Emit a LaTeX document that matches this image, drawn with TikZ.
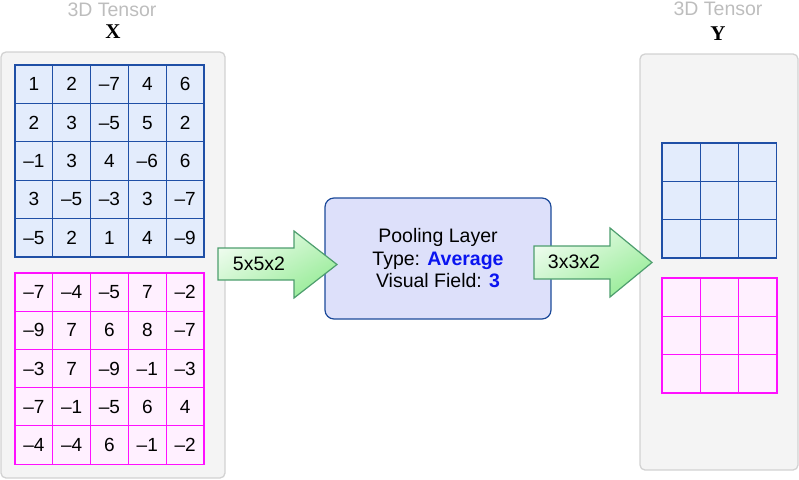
\documentclass[tikz,border=0pt]{standalone}
\usepackage{fontspec}
\setmainfont{Liberation Sans}
\newfontfamily\serifname{Liberation Serif}
\usetikzlibrary{positioning}

\definecolor{panelfill}{HTML}{F4F4F4}
\definecolor{panelline}{HTML}{D2D2D2}
\definecolor{bluefill}{HTML}{E3ECFC}
\definecolor{blueline}{HTML}{1F4FA6}
\definecolor{pinkfill}{HTML}{FFF0FF}
\definecolor{pinkline}{HTML}{FF10FF}
\definecolor{poolfill}{HTML}{DDE0FA}
\definecolor{poolline}{HTML}{1C4A9A}
\definecolor{arrowline}{HTML}{4E9E6E}
\definecolor{arrowtop}{HTML}{EEFCEE}
\definecolor{arrowbot}{HTML}{98EC98}
\definecolor{titlegray}{HTML}{BDBDBD}
\definecolor{hiblue}{HTML}{0A14F0}

\tikzset{
  panel/.style={draw=panelline,fill=panelfill,line width=1.3pt,rounded corners=5pt},
  bcell/.style={draw=blueline,fill=bluefill,line width=1.2pt,inner sep=0pt,
    minimum width=37.8pt,minimum height=38.4pt,font=\fontsize{19}{22}\selectfont},
  pcell/.style={bcell,draw=pinkline,fill=pinkfill},
  ycell/.style={bcell,minimum width=38.2pt,minimum height=38.3pt},
  yqcell/.style={pcell,minimum width=38.3pt,minimum height=38.3pt},
  blockarrow/.style={draw=arrowline,line width=1.2pt,top color=arrowtop,bottom color=arrowbot,shading angle=30},
  tensortitle/.style={text=titlegray,font=\fontsize{19.5}{22}\selectfont,inner sep=0pt},
  tensorname/.style={font=\serifname\bfseries\fontsize{21}{24}\selectfont,inner sep=0pt},
}

\begin{document}
\begin{tikzpicture}[x=1pt,y=-1pt]
  \useasboundingbox (0,0) rectangle (799,479);
  % panels
  \draw [panel] (1,52) rectangle (225,478);
  \draw [panel] (640,54) rectangle (798,470);
  \node [tensortitle] (titleX) at (112,10) {3D Tensor};
  \node [tensorname] (nameX) at (113,32) {X};
  \node [tensortitle] (titleY) at (718,9) {3D Tensor};
  \node [tensorname] (nameY) at (718,34) {Y};
  % input channels
  \foreach \r [count=\i] in {{1,2,–7,4,6},{2,3,–5,5,2},{–1,3,4,–6,6},{3,–5,–3,3,–7},{–5,2,1,4,–9}}
    \foreach \v [count=\j] in \r
      \node [bcell] (xa-\i-\j) at ({15+37.8*(\j-0.5)},{65+38.4*(\i-0.5)}) {\v};
  \foreach \r [count=\i] in {{–7,–4,–5,7,–2},{–9,7,6,8,–7},{–3,7,–9,–1,–3},{–7,–1,–5,6,4},{–4,–4,6,–1,–2}}
    \foreach \v [count=\j] in \r
      \node [pcell] (xb-\i-\j) at ({15+37.8*(\j-0.5)},{273+38.2*(\i-0.5)}) {\v};
  % output channels
  \foreach \i in {1,2,3}
    \foreach \j in {1,2,3} {
      \node [ycell] (ya-\i-\j) at ({662+38.2*(\j-0.5)},{143+38.3*(\i-0.5)}) {};
      \node [yqcell] (yb-\i-\j) at ({662+38.3*(\j-0.5)},{278+38.3*(\i-0.5)}) {};
    }
  % pooling layer
  \node [draw=poolline,fill=poolfill,line width=1.2pt,rounded corners=9pt,
    minimum width=226pt,minimum height=121pt,align=center,
    font=\fontsize{19.5}{22.5}\selectfont] (pool) at (438,258.5)
    {Pooling Layer\\Type: \textcolor{hiblue}{\bfseries Average}\\Visual Field: \textcolor{hiblue}{\bfseries 3}};
  % block arrows
  \shade [blockarrow] (218,248) -- (294,248) -- (294,231) -- (337,264.5)
    -- (294,298) -- (294,280) -- (218,280) -- cycle;
  \node [font=\fontsize{19.5}{22}\selectfont] (inlabel) at (259,263.5) {5x5x2};
  \shade [blockarrow] (534,246) -- (610,246) -- (610,228) -- (652,262.5)
    -- (610,297) -- (610,279) -- (534,279) -- cycle;
  \node [font=\fontsize{19.5}{22}\selectfont] (outlabel) at (574,262) {3x3x2};
\end{tikzpicture}
\end{document}
